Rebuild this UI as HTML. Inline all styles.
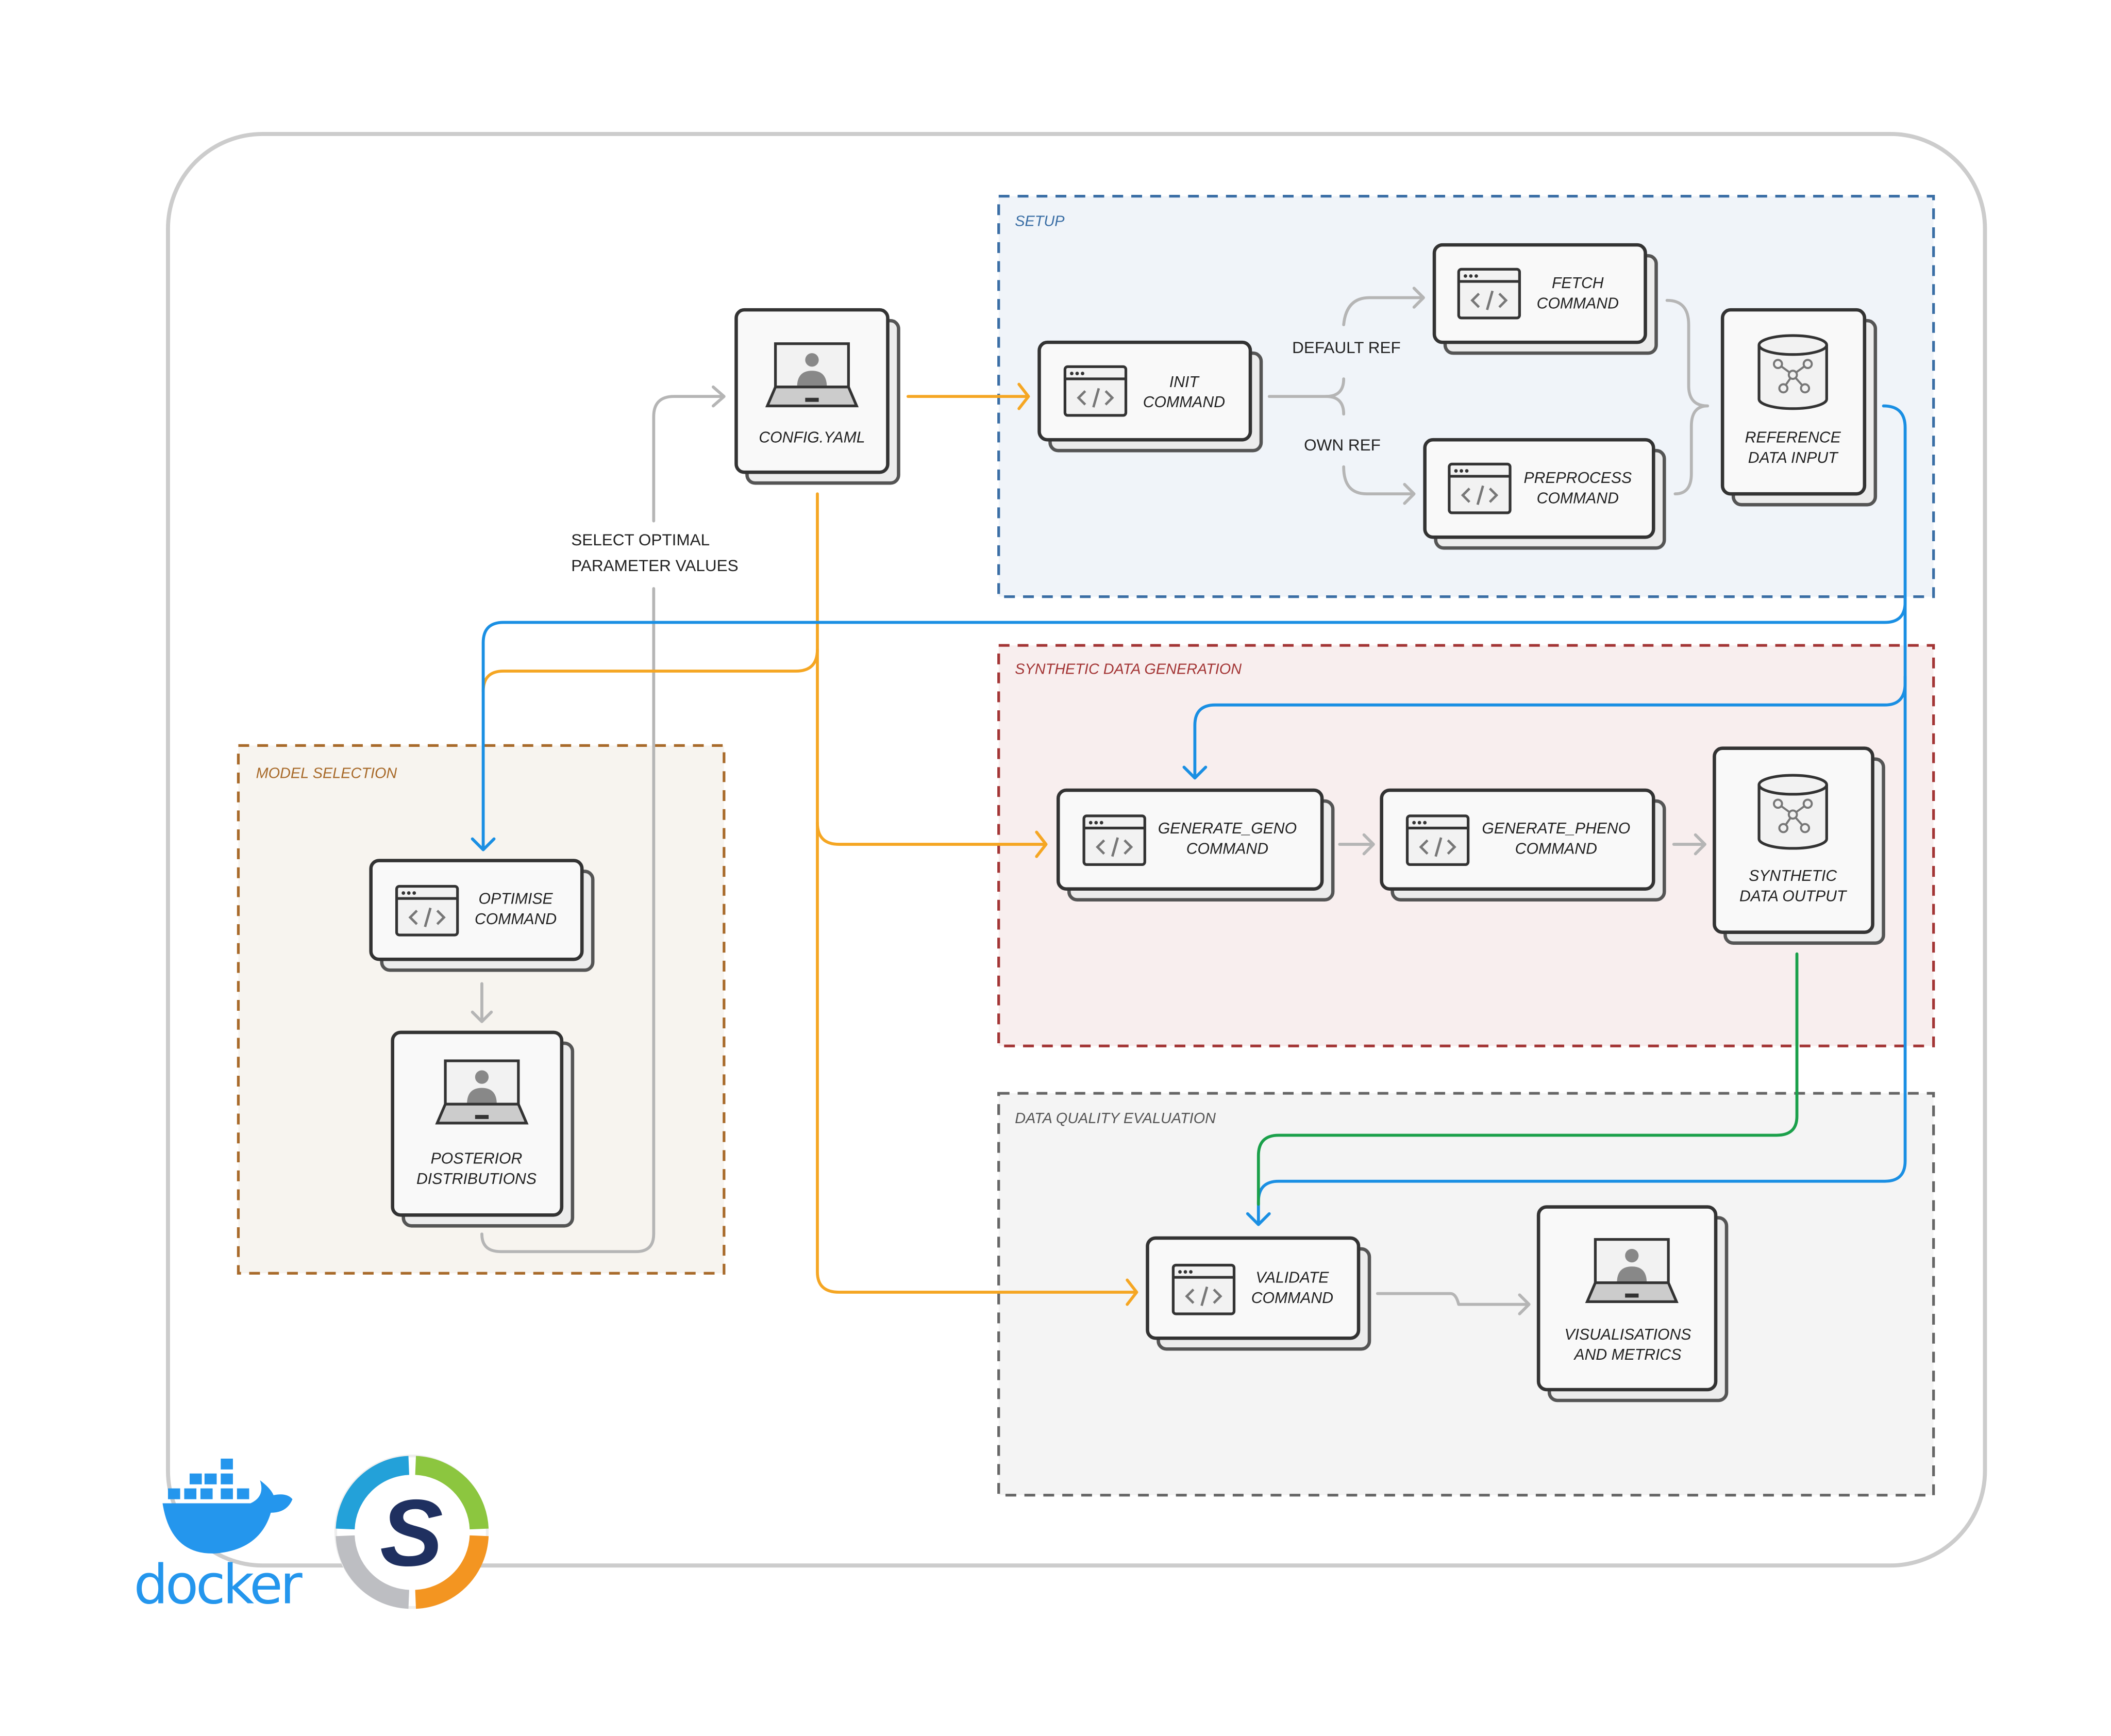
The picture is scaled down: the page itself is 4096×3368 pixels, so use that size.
<!DOCTYPE html>
<html><head><meta charset="utf-8"><style>html,body{margin:0;padding:0;background:#fff}svg{display:block}</style></head>
<body>
<svg width="4096" height="3368" viewBox="0 0 1560 1283" xmlns="http://www.w3.org/2000/svg" font-family="Liberation Sans, sans-serif">
<defs>
<g id="code">
<rect x="0" y="0" width="45" height="36" rx="2" fill="#f2f2f2" stroke="#333" stroke-width="2"/>
<line x1="0" y1="9" x2="45" y2="9" stroke="#333" stroke-width="2"/>
<circle cx="5" cy="5" r="1.3" fill="#333"/><circle cx="9" cy="5" r="1.3" fill="#333"/><circle cx="13" cy="5" r="1.3" fill="#333"/>
<path d="M15 18 l-5 5 5 5 M30 18 l5 5 -5 5 M25 16 l-4 14" stroke="#777" stroke-width="1.8" fill="none"/>
</g>
<g id="laptop">
<rect x="6" y="0" width="54" height="32" fill="#f2f2f2" stroke="#333" stroke-width="2"/>
<circle cx="33" cy="12" r="5" fill="#888"/><path d="M22 32 q0-12 11-12 q11 0 11 12z" fill="#888"/>
<path d="M6 32 L0 46 H66 L60 32Z" fill="#ccc" stroke="#333" stroke-width="2"/>
<rect x="28" y="40" width="10" height="3" fill="#333"/>
</g>
<g id="db">
<path d="M0 8 V48 A25 7 0 0 0 50 48 V8" fill="#f2f2f2" stroke="#333" stroke-width="2"/>
<ellipse cx="25" cy="8" rx="25" ry="7" fill="#f2f2f2" stroke="#333" stroke-width="2"/>
<g stroke="#777" stroke-width="1.5" fill="#f2f2f2"><line x1="25" y1="30" x2="14" y2="22"/><line x1="25" y1="30" x2="36" y2="22"/><line x1="25" y1="30" x2="18" y2="40"/><line x1="25" y1="30" x2="34" y2="40"/>
<circle cx="25" cy="30" r="3"/><circle cx="14" cy="22" r="3"/><circle cx="36" cy="22" r="3"/><circle cx="18" cy="40" r="3"/><circle cx="34" cy="40" r="3"/></g>
</g>
</defs>
<rect x="124" y="99" width="1343" height="1058" rx="70" fill="#fff" stroke="#ccc" stroke-width="3"/>
<!-- groups -->
<g stroke-width="2" stroke-dasharray="8 6">
<rect x="738" y="145" width="691" height="296" fill="#f0f4f9" stroke="#3a6ea5"/>
<rect x="738" y="477" width="691" height="296" fill="#f8eeee" stroke="#a33535"/>
<rect x="738" y="808" width="691" height="297" fill="#f4f4f4" stroke="#666"/>
<rect x="176" y="551" width="359" height="390" fill="#f7f4ef" stroke="#a86a2a"/>
</g>
<g font-size="11" font-style="italic">
<text x="750" y="167" fill="#3a6ea5">SETUP</text>
<text x="750" y="498" fill="#a33535">SYNTHETIC DATA GENERATION</text>
<text x="750" y="830" fill="#555">DATA QUALITY EVALUATION</text>
<text x="189" y="575" fill="#a86a2a">MODEL SELECTION</text>
</g>
<!-- connectors -->
<g fill="none" stroke-width="2.2" stroke-linecap="round" stroke-linejoin="round">
<g stroke="#b5b5b5">
<path d="M356 912 Q356 925 370 925 H470 Q483 925 483 912 V435 M483 385 V308 Q483 293 498 293 H535 M527 286 l8 7 -8 7"/>
<path d="M938 293 H980 Q993 293 993 280 M993 240 Q995 220 1012 220 H1052 M1045 213 l7 7 -7 7"/>
<path d="M980 293 Q993 293 993 306 M993 345 Q993 365 1010 365 H1045 M1038 358 l7 7 -7 7"/>
<path d="M1232 222 Q1248 222 1248 240 V285 Q1248 300 1262 300 Q1250 300 1250 315 V350 Q1250 365 1238 365"/>
<path d="M990 624 H1015 M1008 617 l7 7 -7 7"/>
<path d="M1237 624 H1260 M1253 617 l7 7 -7 7"/>
<path d="M356 727 V755 M349 748 l7 7 7 -7"/>
<path d="M1018 956 H1072 Q1076 956 1078 964 H1130 M1123 957 l7 7 -7 7"/>
</g>
<g stroke="#f5a623">
<path d="M671 293 H760 M753 284 l7 9 -7 9"/>
<path d="M604 365 V940 Q604 955 620 955 H840 M833 946 l7 9 -7 9"/>
<path d="M604 480 Q604 496 588 496 H372 Q357 496 357 511"/>
<path d="M604 608 Q604 624 620 624 H773 M766 615 l7 9 -7 9"/>
</g>
<g stroke="#1a8fe3">
<path d="M1392 300 Q1408 300 1408 316 V445 Q1408 460 1393 460 H372 Q357 460 357 475 V628 M349 620 l8 8 8 -8"/>
<path d="M1408 440 V505 Q1408 521 1393 521 H898 Q883 521 883 536 V575 M875 567 l8 8 8 -8"/>
<path d="M1408 500 V858 Q1408 873 1393 873 H945 Q930 873 930 888 V905 M922 897 l8 8 8 -8"/>
</g>
<path stroke="#1aa04a" d="M1328 705 V825 Q1328 839 1313 839 H945 Q930 839 930 854 V890"/>
</g>
<g font-size="12" fill="#222">
<text x="995" y="261" text-anchor="middle">DEFAULT REF</text>
<text x="992" y="333" text-anchor="middle">OWN REF</text>
<text x="422" y="403">SELECT OPTIMAL</text>
<text x="422" y="422">PARAMETER VALUES</text>
</g>
<!-- nodes -->
<g stroke-width="2.5">
<g fill="#ececec" stroke="#555">
<rect x="552" y="237" width="112" height="120" rx="6"/>
<rect x="776" y="261" width="156" height="72" rx="6"/>
<rect x="1068" y="189" width="156" height="72" rx="6"/>
<rect x="1061" y="333" width="169" height="72" rx="6"/>
<rect x="1281" y="237" width="105" height="136" rx="6"/>
<rect x="790" y="592" width="195" height="73" rx="6"/>
<rect x="1029" y="592" width="201" height="73" rx="6"/>
<rect x="1275" y="561" width="117" height="136" rx="6"/>
<rect x="282" y="644" width="156" height="73" rx="6"/>
<rect x="298" y="771" width="125" height="135" rx="6"/>
<rect x="856" y="923" width="156" height="74" rx="6"/>
<rect x="1145" y="900" width="131" height="135" rx="6"/>
</g>
<g fill="#f9f9f9" stroke="#333">
<rect x="544" y="229" width="112" height="120" rx="6"/>
<rect x="768" y="253" width="156" height="72" rx="6"/>
<rect x="1060" y="181" width="156" height="72" rx="6"/>
<rect x="1053" y="325" width="169" height="72" rx="6"/>
<rect x="1273" y="229" width="105" height="136" rx="6"/>
<rect x="782" y="584" width="195" height="73" rx="6"/>
<rect x="1021" y="584" width="201" height="73" rx="6"/>
<rect x="1267" y="553" width="117" height="136" rx="6"/>
<rect x="274" y="636" width="156" height="73" rx="6"/>
<rect x="290" y="763" width="125" height="135" rx="6"/>
<rect x="848" y="915" width="156" height="74" rx="6"/>
<rect x="1137" y="892" width="131" height="135" rx="6"/>
</g>
</g>
<use href="#laptop" x="567" y="254"/>
<use href="#laptop" x="323" y="784"/>
<use href="#laptop" x="1173" y="916"/>
<use href="#code" x="787" y="271"/>
<use href="#code" x="1078" y="199"/>
<use href="#code" x="1071" y="343"/>
<use href="#code" x="801" y="603"/>
<use href="#code" x="1040" y="603"/>
<use href="#code" x="293" y="655"/>
<use href="#code" x="867" y="935"/>
<use href="#db" x="1300" y="247"/>
<use href="#db" x="1300" y="572"/>
<g font-size="11.5" font-style="italic" fill="#222" text-anchor="middle">
<text x="600" y="327">CONFIG.YAML</text>
<text x="875" y="286">INIT</text><text x="875" y="301">COMMAND</text>
<text x="1166" y="213">FETCH</text><text x="1166" y="228">COMMAND</text>
<text x="1166" y="357">PREPROCESS</text><text x="1166" y="372">COMMAND</text>
<text x="1325" y="327">REFERENCE</text><text x="1325" y="342">DATA INPUT</text>
<text x="907" y="616">GENERATE_GENO</text><text x="907" y="631">COMMAND</text>
<text x="1150" y="616">GENERATE_PHENO</text><text x="1150" y="631">COMMAND</text>
<text x="1325" y="651">SYNTHETIC</text><text x="1325" y="666">DATA OUTPUT</text>
<text x="381" y="668">OPTIMISE</text><text x="381" y="683">COMMAND</text>
<text x="352" y="860">POSTERIOR</text><text x="352" y="875">DISTRIBUTIONS</text>
<text x="955" y="948">VALIDATE</text><text x="955" y="963">COMMAND</text>
<text x="1203" y="990">VISUALISATIONS</text><text x="1203" y="1005">AND METRICS</text>
</g>
<!-- docker -->
<g fill="#2496ed">
<rect x="163" y="1078" width="9" height="8"/>
<rect x="140" y="1089" width="9" height="8"/><rect x="151" y="1089" width="9" height="8"/><rect x="163" y="1089" width="9" height="8"/>
<rect x="124" y="1100" width="9" height="8"/><rect x="136" y="1100" width="9" height="8"/><rect x="148" y="1100" width="9" height="8"/><rect x="163" y="1100" width="9" height="8"/><rect x="175" y="1100" width="9" height="8"/>
<path d="M120 1111 H185 Q196 1106 192 1094 Q200 1100 202 1105 Q212 1103 216 1108 Q212 1118 200 1118 Q192 1145 160 1148 Q126 1150 120 1111Z"/>
<text x="160" y="1185" font-size="40" text-anchor="middle" font-family="DejaVu Sans, sans-serif" letter-spacing="-2">docker</text>
</g>
<!-- snakemake -->
<circle cx="304" cy="1132" r="56" fill="#fff" stroke="#eee" stroke-width="2"/>
<g fill="none" stroke-width="14">
<path d="M302 1083 A49 49 0 0 0 255 1130" stroke="#23a1d9"/>
<path d="M307 1083 A49 49 0 0 1 354 1130" stroke="#8cc63f"/>
<path d="M255 1135 A49 49 0 0 0 302 1182" stroke="#bdbec2"/>
<path d="M307 1182 A49 49 0 0 0 354 1135" stroke="#f39521"/>
</g>
<text x="304" y="1157" font-size="70" font-weight="bold" font-style="italic" fill="#1f3060" text-anchor="middle">S</text>
</svg>
</body></html>
